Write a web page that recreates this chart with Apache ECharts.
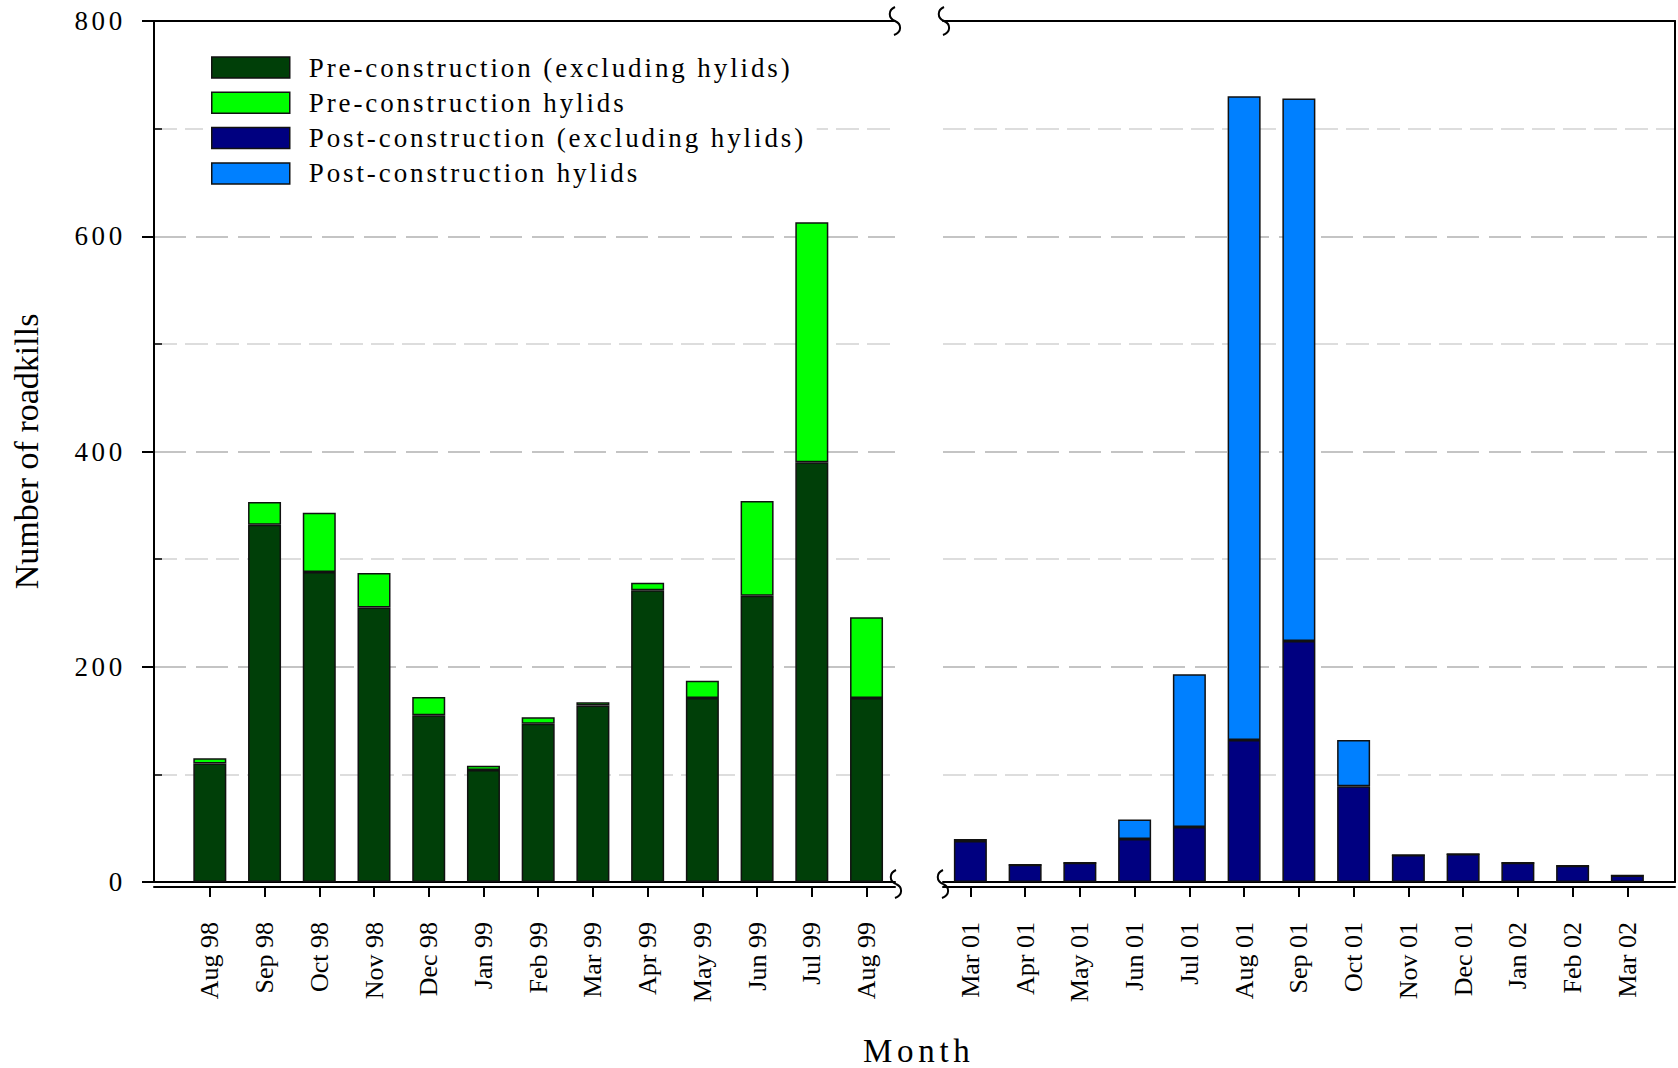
<!DOCTYPE html>
<html>
<head>
<meta charset="utf-8">
<script src="https://cdn.jsdelivr.net/npm/echarts@6/dist/echarts.min.js"></script>
<style>
  html, body { margin: 0; padding: 0; background: #fff; }
  #chart { width: 1678px; height: 1068px; }
</style>
</head>
<body>
<div id="chart"></div>
<script>
// Monthly roadkill counts, before and after road construction
const preMonths  = ['Aug 98', 'Sep 98', 'Oct 98', 'Nov 98', 'Dec 98', 'Jan 99', 'Feb 99',
                    'Mar 99', 'Apr 99', 'May 99', 'Jun 99', 'Jul 99', 'Aug 99'];
const preOther   = [110, 332, 288, 255, 155, 104, 147, 164, 271, 171, 266, 390, 171];
const preHylids  = [5, 21, 55, 32, 17, 4, 6, 3, 7, 16, 88, 223, 75];

const postMonths = ['Mar 01', 'Apr 01', 'May 01', 'Jun 01', 'Jul 01', 'Aug 01', 'Sep 01',
                    'Oct 01', 'Nov 01', 'Dec 01', 'Jan 02', 'Feb 02', 'Mar 02'];
const postOther  = [38, 16, 18, 40, 51, 132, 224, 89, 25, 26, 18, 15, 6];
const postHylids = [2, 0, 0, 18, 142, 598, 504, 43, 0, 0, 0, 0, 0];

const yTicks = [0, 200, 400, 600, 800];

const seriesNames = [
  'Pre-construction (excluding hylids)',
  'Pre-construction hylids',
  'Post-construction (excluding hylids)',
  'Post-construction hylids'
];
const seriesColors = ['#003f08', '#00ff00', '#000080', '#0080ff'];

const SERIF = '"Liberation Serif", "Times New Roman", serif';
const BLACK = '#000';

const preIdx = preMonths.map((_, i) => i);
const postIdx = postMonths.map((_, i) => i);

// [count, month index]; the month index drives the horizontal position
const asPairs = values => values.map((v, i) => [v, i]);

const majorGrid = { show: true, lineStyle: { color: '#c4c4c4', width: 2, type: [32, 10] } };
const minorGrid = { show: true, lineStyle: { color: '#d2d2d2', width: 1.5, type: [23, 8] } };

function frameAxis(grid, position, offset, min, max) {
  return {
    gridIndex: grid, type: 'value', position: position, offset: offset, min: min, max: max,
    axisLine: { show: true, onZero: false, lineStyle: { color: BLACK, width: 2 } },
    axisTick: { show: false }, axisLabel: { show: false }, splitLine: { show: false }
  };
}

function monthAxis(grid, min, max, idx, names) {
  return {
    gridIndex: grid, type: 'value', position: 'bottom', offset: 5, min: min, max: max,
    axisLine: { show: true, onZero: false, lineStyle: { color: BLACK, width: 2 } },
    axisTick: { show: true, customValues: idx, length: 10, lineStyle: { color: BLACK, width: 2 } },
    axisLabel: {
      show: true, customValues: idx, rotate: 90, margin: 35,
      formatter: v => names[Math.round(v)],
      fontFamily: SERIF, fontSize: 26, color: BLACK
    },
    splitLine: { show: false }
  };
}

const L_MIN = -1.02, L_MAX = 12.52;
const R_MIN = -0.5, R_MAX = 12.87;

function barSeries(k, xAxis, yAxis, stack, values) {
  return {
    name: seriesNames[k], type: 'bar', xAxisIndex: xAxis, yAxisIndex: yAxis,
    stack: stack, barWidth: 33, data: asPairs(values), encode: { x: 1, y: 0 },
    itemStyle: { color: seriesColors[k], borderColor: '#111', borderWidth: 1.5 }
  };
}

// squiggle drawn where the time axis is broken: two joined cubic curves
function breakMark(cx, cy) {
  const t = cy - 14, b = cy + 14;
  const style = { stroke: BLACK, lineWidth: 2, fill: null };
  return [
    { type: 'bezierCurve', silent: true, z: 100, style: style,
      shape: { x1: cx, y1: t, cpx1: cx - 7, cpy1: t + 3, cpx2: cx - 7, cpy2: cy - 3, x2: cx, y2: cy } },
    { type: 'bezierCurve', silent: true, z: 100, style: style,
      shape: { x1: cx, y1: cy, cpx1: cx + 7, cpy1: cy + 3, cpx2: cx + 7, cpy2: b - 3, x2: cx - 1, y2: b } }
  ];
}

const chart = echarts.init(document.getElementById('chart'), null, { renderer: 'svg' });

chart.setOption({
  animation: false,
  backgroundColor: '#fff',
  title: {
    text: 'Month', left: 858, top: 1029,
    textStyle: { fontFamily: SERIF, fontSize: 33, fontWeight: 'normal', color: BLACK }
  },
  legend: {
    orient: 'vertical', left: 203, top: 46,
    padding: [8, 115, 8, 8], backgroundColor: '#fff',
    itemWidth: 78, itemHeight: 21, itemGap: 8.3, icon: 'rect',
    itemStyle: { borderColor: '#111', borderWidth: 1.5 },
    textStyle: { fontFamily: SERIF, fontSize: 27, color: BLACK, lineHeight: 21, padding: [0, 0, 0, 14] },
    data: seriesNames, z: 10
  },
  grid: [
    { left: 154, right: 783, top: 21, bottom: 186, outerBoundsMode: 'none' },
    { left: 943, right: 3, top: 21, bottom: 186, outerBoundsMode: 'none' }
  ],
  xAxis: [
    monthAxis(0, L_MIN, L_MAX, preIdx, preMonths),
    frameAxis(0, 'bottom', 0, L_MIN, L_MAX),
    frameAxis(0, 'top', 0, L_MIN, L_MAX),
    monthAxis(1, R_MIN, R_MAX, postIdx, postMonths),
    frameAxis(1, 'bottom', 0, R_MIN, R_MAX),
    frameAxis(1, 'top', 0, R_MIN, R_MAX)
  ],
  yAxis: [
    {
      gridIndex: 0, type: 'value', position: 'left',
      min: yTicks[0], max: yTicks[yTicks.length - 1], interval: yTicks[1] - yTicks[0],
      name: 'Number of roadkills', nameLocation: 'middle', nameGap: 111,
      nameTextStyle: { fontFamily: SERIF, fontSize: 34, color: BLACK },
      axisLine: { show: true, onZero: false, lineStyle: { color: BLACK, width: 2 } },
      axisTick: { show: true, length: 12, lineStyle: { color: BLACK, width: 2 } },
      minorTick: { show: true, splitNumber: 2, length: -8, lineStyle: { color: BLACK, width: 1.5 } },
      axisLabel: { margin: 28, fontFamily: SERIF, fontSize: 27, color: BLACK },
      splitLine: majorGrid,
      minorSplitLine: minorGrid
    },
    {
      gridIndex: 1, type: 'value', position: 'right',
      min: yTicks[0], max: yTicks[yTicks.length - 1], interval: yTicks[1] - yTicks[0],
      axisLine: { show: true, onZero: false, lineStyle: { color: BLACK, width: 2 } },
      axisTick: { show: false },
      minorTick: { show: false, splitNumber: 2 },
      axisLabel: { show: false },
      splitLine: majorGrid,
      minorSplitLine: minorGrid
    }
  ],
  series: [
    barSeries(0, 0, 0, 'pre', preOther),
    barSeries(1, 0, 0, 'pre', preHylids),
    barSeries(2, 3, 1, 'post', postOther),
    barSeries(3, 3, 1, 'post', postHylids)
  ],
  graphic: [].concat(
    breakMark(895, 21), breakMark(944, 21),
    breakMark(896, 884), breakMark(943, 884)
  )
});

// the printed figure uses generously tracked horizontal type
const tickText = yTicks.map(String);
function applyTracking() {
  document.querySelectorAll('#chart svg text').forEach(t => {
    const s = t.textContent;
    if (seriesNames.indexOf(s) >= 0) t.style.letterSpacing = '2.9px';
    else if (tickText.indexOf(s) >= 0) t.style.letterSpacing = '3.7px';
    else if (s === 'Month') t.style.letterSpacing = '4.7px';
  });
}
chart.on('rendered', applyTracking);
chart.on('finished', applyTracking);
applyTracking();
</script>
</body>
</html>
